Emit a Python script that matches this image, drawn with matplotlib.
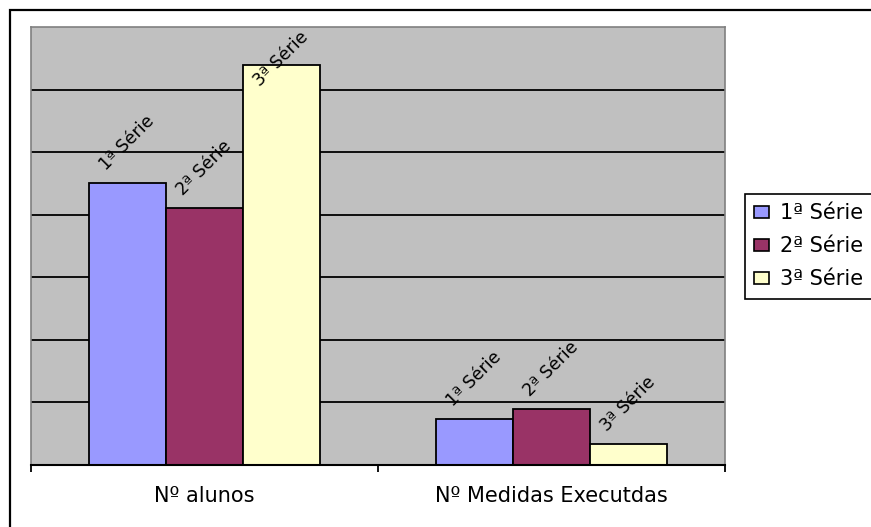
import matplotlib
matplotlib.use("Agg")
import matplotlib.pyplot as plt
from matplotlib.patches import Rectangle, Patch

# Data
categories = ["Nº alunos", "Nº Medidas Executdas"]
series_names = ["1ª Série", "2ª Série", "3ª Série"]
serie1 = [45, 7.3]
serie2 = [41, 8.9]
serie3 = [64, 3.3]
series_values = [serie1, serie2, serie3]
colors = ["#9999FF", "#993366", "#FFFFCC"]

W, H, DPI = 871, 527, 100
fig = plt.figure(figsize=(W / DPI, H / DPI), dpi=DPI)
fig.patch.set_facecolor("white")

# Outer chart-area frame (top and left edges visible)
fig.add_artist(Rectangle((10 / W, -0.05), 1.2, 1.05 - 10 / H,
                         transform=fig.transFigure, fill=False,
                         edgecolor="black", linewidth=1.6))

ax = fig.add_axes([31 / W, 1 - 465 / H, (725 - 31) / W, (465 - 27) / H])
ax.set_facecolor("#C0C0C0")

bar_w = 0.222
offsets = [-bar_w, 0.0, bar_w]
xs = list(range(len(categories)))

labels = []
for vals, name, col, off in zip(series_values, series_names, colors, offsets):
    pos = [x + off for x in xs]
    ax.bar(pos, vals, width=bar_w, color=col, edgecolor="black",
           linewidth=1.3, zorder=3)
    for p, v in zip(pos, vals):
        t = ax.annotate(name, xy=(p, v), xytext=(0, 7), textcoords="offset points",
                        rotation=45, ha="center", va="bottom", fontsize=12.5,
                        zorder=4, annotation_clip=False)
        labels.append(t)

ax.set_xlim(-0.5, 1.5)
ax.set_ylim(0, 70)
ax.set_yticks(range(0, 70, 10))
ax.yaxis.grid(True, color="black", linewidth=1.3, zorder=1)
ax.set_axisbelow(True)
ax.tick_params(axis="y", left=False, labelleft=False)

ax.set_xticks(xs)
ax.set_xticklabels(categories, fontsize=15)
ax.set_xticks([-0.5, 0.5, 1.5], minor=True)
ax.tick_params(axis="x", which="major", length=0, pad=15)
ax.tick_params(axis="x", which="minor", length=5, width=1.3, color="black",
               direction="out")

for side in ["left", "top", "right"]:
    ax.spines[side].set_color("#808080")
    ax.spines[side].set_linewidth(1.2)
ax.spines["bottom"].set_color("black")
ax.spines["bottom"].set_linewidth(1.5)
ax.spines["bottom"].set_zorder(5)

# Legend
handles = [Patch(facecolor=c, edgecolor="black", linewidth=1.2) for c in colors]
leg = fig.legend(handles, series_names, loc="upper left",
                 bbox_to_anchor=(745 / W, 1 - 194 / H),
                 bbox_transform=fig.transFigure, fontsize=15,
                 frameon=True, fancybox=False, edgecolor="black",
                 handlelength=0.72, handleheight=0.5, handletextpad=0.5,
                 labelspacing=0.62, borderpad=0.45, borderaxespad=0,
                 framealpha=1)
leg.get_frame().set_linewidth(1.2)

# Keep data labels inside the plot area
fig.canvas.draw()
renderer = fig.canvas.get_renderer()
ax_top = ax.get_window_extent(renderer).y1
for t in labels:
    ext = t.get_window_extent(renderer)
    if ext.y1 > ax_top - 1:
        dy_px = ext.y1 - (ax_top - 1)
        dx, dy = t.xyann
        t.xyann = (dx, dy - dy_px * 72 / DPI)

fig.savefig("out.png", dpi=DPI)
